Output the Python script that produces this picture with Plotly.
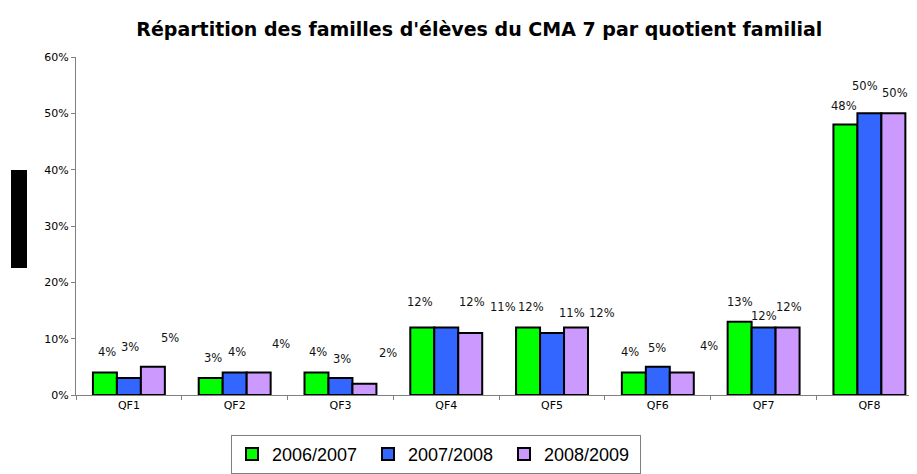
import plotly.graph_objects as go

categories = ["QF1", "QF2", "QF3", "QF4", "QF5", "QF6", "QF7", "QF8"]
series_names = ["2006/2007", "2007/2008", "2008/2009"]
v_2006 = [4, 3, 4, 12, 12, 4, 13, 48]
v_2007 = [3, 4, 3, 12, 11, 5, 12, 50]
v_2008 = [5, 4, 2, 11, 12, 4, 12, 50]
series_values = [v_2006, v_2007, v_2008]
colors = ["#00FF00", "#3366FF", "#CC99FF"]

# Excel put the data labels a bit off their bars; pixel nudges per label
label_dx = [
    [2, 2, 2, -2, 3, -4, 0, -1],
    [1, 2, 2, 26, 20, -1, 0, -4],
    [17, 22, 24, 33, 26, 27, 1, 2],
]
label_dy = [
    [20, 20, 20, 25, 20, 20, 20, 19],
    [31, 20, 19, 25, 20, 19, 11, 27],
    [29, 28, 31, 26, 14, 26, 20, 20],
]
bar_px = 24

fig = go.Figure()
for name, vals, col in zip(series_names, series_values, colors):
    fig.add_trace(go.Bar(
        x=categories, y=vals, name=name,
        marker=dict(color=col, line=dict(color="black", width=2)),
    ))

for j, vals in enumerate(series_values):
    for i, v in enumerate(vals):
        fig.add_annotation(
            x=categories[i], y=v, text=f"{v}%", showarrow=False,
            xshift=(j - 1) * bar_px + label_dx[j][i], yshift=label_dy[j][i],
            xanchor="center", yanchor="middle",
            font=dict(family="DejaVu Sans", size=11.5, color="#111111"),
        )

# redacted axis title block
fig.add_shape(type="rect", xref="paper", yref="paper",
              x0=-65 / 841, x1=-49 / 841, y0=127 / 338, y1=225 / 338,
              fillcolor="black", line=dict(width=0))

fig.update_layout(
    width=917, height=474,
    margin=dict(l=68, r=8, t=49, b=87),
    paper_bgcolor="white", plot_bgcolor="white",
    font=dict(family="DejaVu Sans, Arial, sans-serif", color="black"),
    title=dict(text="<b>Répartition des familles d'élèves du CMA 7 par quotient familial</b>",
               x=0.514, xanchor="center", y=0.956, yanchor="middle",
               font=dict(family="DejaVu Sans", size=19, color="black")),
    barmode="group", bargap=0.32, bargroupgap=0,
    showlegend=True,
    legend=dict(orientation="h", x=0.1843, xanchor="left", y=-0.118, yanchor="top",
                bordercolor="#808080", borderwidth=1,
                font=dict(family="Liberation Sans, Arial", size=18),
                itemwidth=30, entrywidth=91),
)
fig.update_xaxes(range=[-0.5, 7.45], showline=True, linecolor="#808080", linewidth=1,
                 ticks="outside", tickson="boundaries", ticklen=4, tickcolor="#808080",
                 showgrid=False, tickfont=dict(size=11), fixedrange=True)
fig.update_yaxes(range=[0, 60], dtick=10, ticksuffix="%", showline=True,
                 linecolor="#808080", linewidth=1, ticks="outside", ticklen=4,
                 tickcolor="#808080", showgrid=False, zeroline=False,
                 tickfont=dict(size=11))

fig.write_html("out.html")
